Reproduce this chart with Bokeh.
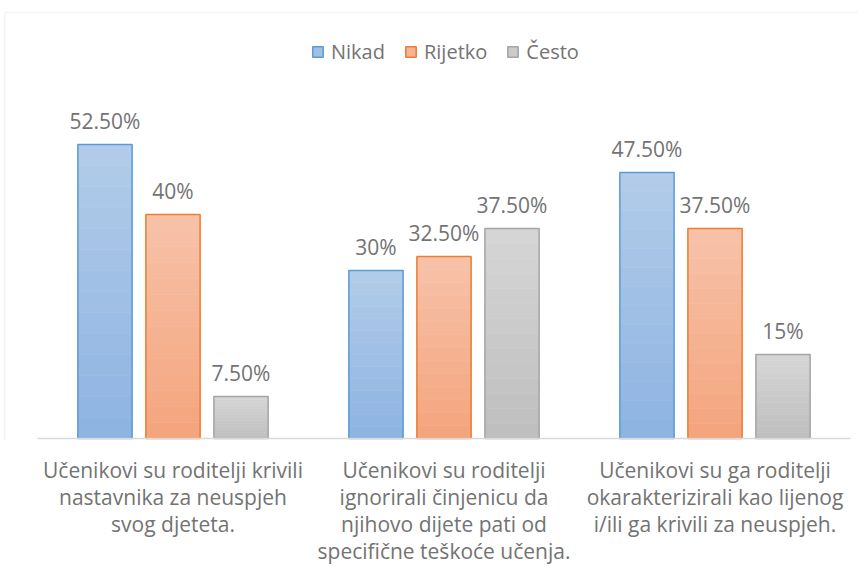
from bokeh.plotting import figure
from bokeh.models import ColumnDataSource, Legend, LegendItem, Range1d, BoxAnnotation, FixedTicker
from bokeh.core.properties import value
from bokeh.embed import file_html
from bokeh.resources import INLINE

categories = [
    "Učenikovi su roditelji krivili\nnastavnika za neuspjeh\nsvog djeteta.",
    "Učenikovi su roditelji\nignorirali činjenicu da\nnjihovo dijete pati od\nspecifične teškoće učenja.",
    "Učenikovi su ga roditelji\nokarakterizirali kao lijenog\ni/ili ga krivili za neuspjeh.",
]
series_names = ["Nikad", "Rijetko", "Često"]
nikad = [52.5, 30, 47.5]
rijetko = [40, 32.5, 37.5]
cesto = [7.5, 37.5, 15]
series_values = [nikad, rijetko, cesto]

FONT = "Open Sans"
TEXT_COLOR = "#737373"
top_colors = ["#b3cce9", "#f7c2aa", "#d6d6d6"]
bottom_colors = ["#8db3e2", "#f4a47c", "#bebebe"]
line_colors = ["#5b9bd5", "#ed7d31", "#a5a5a5"]
offsets = [-0.251, 0.0, 0.251]
BAR_W = 0.2
N_BANDS = 14
CAT_PX = 271.0  # pixel width of one category slot
PX_PER_PCT = 5.6
cat_idx = list(range(len(categories)))


def fmt(v):
    return f"{int(v)}%" if float(v).is_integer() else f"{v:.2f}%"


def mix(c1, c2, t):
    a = [int(c1[i:i + 2], 16) for i in (1, 3, 5)]
    b = [int(c2[i:i + 2], 16) for i in (1, 3, 5)]
    return "#" + "".join(f"{round(a[j] + (b[j] - a[j]) * t):02x}" for j in range(3))


p = figure(
    x_range=Range1d(-0.5 - 37 / CAT_PX, len(categories) - 0.5 + 8 / CAT_PX),
    y_range=Range1d(-2 / PX_PER_PCT, 438 / PX_PER_PCT),
    width=858, height=580,
    output_backend="svg", toolbar_location=None,
    y_axis_location=None,
    min_border_left=0, min_border_right=0, min_border_top=0, min_border_bottom=140,
)
p.outline_line_color = None
p.xgrid.grid_line_color = None
p.ygrid.grid_line_color = None
p.background_fill_color = "white"
p.border_fill_color = "white"

p.add_layout(BoxAnnotation(left=4, top=12, right=2000, bottom=2000,
                           left_units="canvas", top_units="canvas",
                           right_units="canvas", bottom_units="canvas",
                           fill_alpha=0, line_color="#d9d9d9", line_width=1.5,
                           level="underlay"))

legend_items = []
for si, (name, vals) in enumerate(zip(series_names, series_values)):
    xs = [i + offsets[si] for i in cat_idx]
    base_src = ColumnDataSource(dict(x=xs, val=vals, lab=[fmt(v) for v in vals]))
    rends = []
    for k in range(N_BANDS):
        lo = [v * k / N_BANDS for v in vals]
        hi = [v * (k + 1) / N_BANDS for v in vals]
        col = mix(bottom_colors[si], top_colors[si], (k + 0.5) / N_BANDS)
        src = ColumnDataSource(dict(x=xs, lo=lo, hi=hi))
        r = p.vbar(x="x", bottom="lo", top="hi", width=BAR_W, source=src,
                   fill_color=col, line_color=col, line_width=0.6)
        if k == N_BANDS // 2:
            rends.append(r)
    outline = p.vbar(x="x", top="val", bottom=0, width=BAR_W, source=base_src,
                     fill_color=None, line_color=line_colors[si], line_width=1.5)
    rends.append(outline)
    legend_items.append(LegendItem(label=name, renderers=rends))

    p.text(x="x", y="val", text="lab", source=base_src,
           text_align="center", text_baseline="alphabetic", y_offset=-24,
           text_font=value(FONT), text_font_size="21px", text_color=TEXT_COLOR)

# category axis baseline spanning the category slots
base = ColumnDataSource(dict(x0=[-0.5], x1=[len(categories) - 0.5], y=[0]))
p.segment(x0="x0", x1="x1", y0="y", y1="y", source=base,
          line_color="#d9d9d9", line_width=1.5)

legend = Legend(items=legend_items, orientation="horizontal", location=(311, 375),
                glyph_width=13, glyph_height=13, label_height=20, label_standoff=7,
                spacing=19, padding=0, margin=0,
                label_text_font=FONT, label_text_font_size="20px",
                label_text_color=TEXT_COLOR,
                background_fill_alpha=0, border_line_color=None)
p.add_layout(legend, "center")

ax = p.xaxis[0]
ax.ticker = FixedTicker(ticks=cat_idx)
ax.major_label_overrides = {i: c for i, c in zip(cat_idx, categories)}
ax.axis_line_color = None
ax.major_tick_line_color = None
ax.minor_tick_line_color = None
ax.major_label_standoff = 9
ax.major_label_text_font = FONT
ax.major_label_text_font_size = "21px"
ax.major_label_text_color = TEXT_COLOR
ax.major_label_text_line_height = 0.975

open("out.html", "w").write(file_html(p, INLINE))
